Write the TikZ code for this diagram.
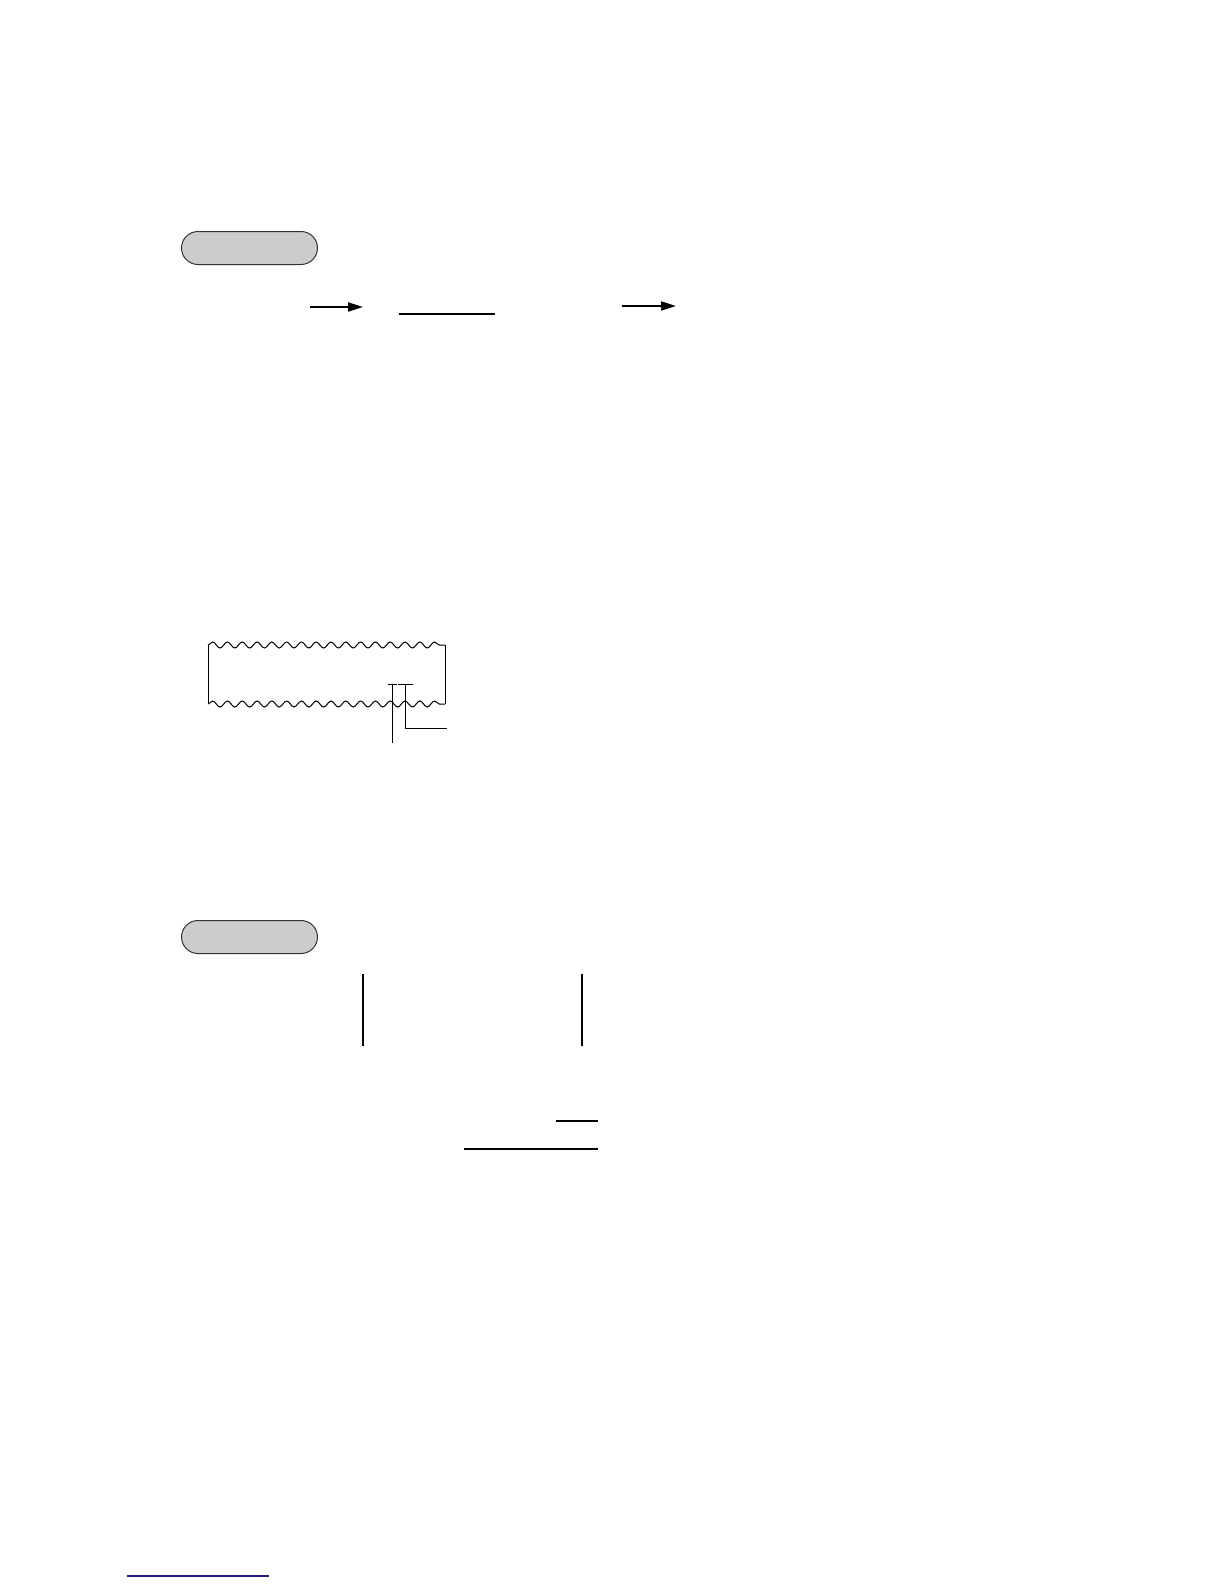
\documentclass[tikz,border=0pt]{standalone}
\usetikzlibrary{positioning}
\usetikzlibrary{arrows.meta}
\usetikzlibrary{shapes.misc}
\usetikzlibrary{decorations.pathmorphing}

\tikzset{
  pill/.style={rounded rectangle, draw=black!80, fill=black!20, line width=1pt,
    minimum width=136pt, minimum height=33pt, inner sep=0pt},
  rulebar/.style={line width=2.5pt},
  flow/.style={line width=2pt, -{Triangle[length=15pt,width=9pt]}},
  paper/.style={line width=1pt},
  wave/.style={paper, decorate, decoration={snake, segment length=14.8pt, amplitude=3pt}},
}

\begin{document}
\begin{tikzpicture}[x=1pt,y=-1pt]
  \useasboundingbox (0,0) rectangle (1224,1584);

  % first heading and key sequence
  \node[pill] (head1) at (249.5,248) {};
  \coordinate (a1s) at (310,307);
  \coordinate (a1e) at (363,307);
  \coordinate (u1s) at (399,314);
  \coordinate (u1e) at (495,314);
  \coordinate (a2s) at (622,306);
  \coordinate (a2e) at (676,306);
  \draw[flow] (a1s) -- (a1e);
  \draw[rulebar] (u1s) -- (u1e);
  \draw[flow] (a2s) -- (a2e);

  % receipt strip
  \coordinate (ptl) at (208,645);
  \coordinate (ptr) at (445,645);
  \coordinate (pbl) at (208,704);
  \coordinate (pbr) at (445,704);
  \draw[paper] (ptl) -- (pbl);
  \draw[paper] (ptr) -- (pbr);
  \draw[wave] (ptl) -- (ptr);
  \draw[wave] (pbl) -- (pbr);

  % pointers
  \coordinate (t1l) at (388,684);
  \coordinate (t1r) at (397,684);
  \coordinate (t1t) at (392,684);
  \coordinate (t1b) at (392,743);
  \coordinate (t2l) at (398,684);
  \coordinate (t2r) at (413,684);
  \coordinate (t2t) at (405,684);
  \coordinate (t2e) at (447,728);
  \draw[paper] (t1l) -- (t1r);
  \draw[paper] (t1t) -- (t1b);
  \draw[paper] (t2l) -- (t2r);
  \draw[paper] (t2t) |- (t2e);

  % second heading
  \node[pill] (head2) at (249.5,937) {};
  \coordinate (b1t) at (363,974);
  \coordinate (b1b) at (363,1046);
  \coordinate (b2t) at (582,974);
  \coordinate (b2b) at (582,1046);
  \draw[line width=2pt] (b1t) -- (b1b);
  \draw[line width=2pt] (b2t) -- (b2b);

  \coordinate (s1s) at (556,1121);
  \coordinate (s1e) at (598,1121);
  \coordinate (s2s) at (464,1149);
  \coordinate (s2e) at (598,1149);
  \draw[rulebar] (s1s) -- (s1e);
  \draw[rulebar] (s2s) -- (s2e);

  % footer rule
  \coordinate (fs) at (127,1576);
  \coordinate (fe) at (269,1576);
  \draw[line width=1.2pt, color={rgb,255:red,30;green,30;blue,140}] (fs) -- (fe);
\end{tikzpicture}
\end{document}
